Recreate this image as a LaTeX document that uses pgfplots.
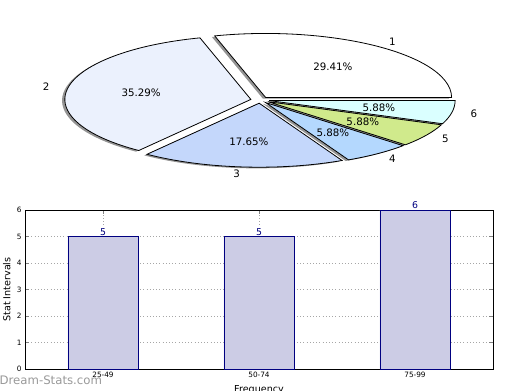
\documentclass[border=0pt]{standalone}
\usepackage{pgfplots}
\pgfplotsset{compat=1.18}
\usepackage{fontspec}
\setmainfont{DejaVu Sans}
\definecolor{sA}{HTML}{FFFFFF}
\definecolor{sB}{HTML}{EBF1FD}
\definecolor{sC}{HTML}{C4D7FB}
\definecolor{sD}{HTML}{B4D8FE}
\definecolor{sE}{HTML}{D0EA8C}
\definecolor{sF}{HTML}{DAFFFF}
\definecolor{barfill}{HTML}{CCCCE5}
\definecolor{baredge}{HTML}{000080}
% #1 cumulative count before slice, #2 count, #3 total
\newcommand\pieshadow[3]{%
 \fill[black!42] (axis cs:{0.05*cos((#1+#2/2)*360/#3)-0.015},{0.05*sin((#1+#2/2)*360/#3)-0.018})
   -- (axis cs:{0.05*cos((#1+#2/2)*360/#3)-0.015+cos(#1*360/#3)},{0.05*sin((#1+#2/2)*360/#3)-0.018+sin(#1*360/#3)})
   arc[start angle={#1*360/#3}, end angle={(#1+#2)*360/#3}, x radius=1, y radius=1] -- cycle;}
\newcommand\pieslice[4]{%
 \filldraw[fill=#4, draw=black, line width=0.6pt, line join=miter] (axis cs:{0.05*cos((#1+#2/2)*360/#3)},{0.05*sin((#1+#2/2)*360/#3)})
   -- (axis cs:{0.05*cos((#1+#2/2)*360/#3)+cos(#1*360/#3)},{0.05*sin((#1+#2/2)*360/#3)+sin(#1*360/#3)})
   arc[start angle={#1*360/#3}, end angle={(#1+#2)*360/#3}, x radius=1, y radius=1] -- cycle;}
% #1 cum, #2 count, #3 total, #4 anchor, #5 label, #6 pct
\newcommand\pielabels[6]{%
 \node[anchor=#4, inner sep=0pt] at (axis cs:{1.15*cos((#1+#2/2)*360/#3)},{1.15*sin((#1+#2/2)*360/#3)}) {#5};
 \node[inner sep=0pt] at (axis cs:{0.65*cos((#1+#2/2)*360/#3)},{0.65*sin((#1+#2/2)*360/#3)}) {#6};}
\begin{document}
\begin{tikzpicture}
\useasboundingbox (0,0) rectangle (390pt,292.5pt);
% ---------------- pie ----------------
\begin{axis}[at={(0pt,150pt)}, anchor=south west, scale only axis,
  width=390pt, height=142.5pt, hide axis, clip=false,
  xmin=-1.398, xmax=1.398, ymin=-1.406, ymax=1.5625,
  font=\fontsize{7.7}{9}\selectfont]
% counts: 5, 6, 3, 1, 1, 1 (total 17)
\pieshadow{0}{5}{17}
\pieshadow{5}{6}{17}
\pieshadow{11}{3}{17}
\pieshadow{14}{1}{17}
\pieshadow{15}{1}{17}
\pieshadow{16}{1}{17}
\pieslice{0}{5}{17}{sA}
\pieslice{5}{6}{17}{sB}
\pieslice{11}{3}{17}{sC}
\pieslice{14}{1}{17}{sD}
\pieslice{15}{1}{17}{sE}
\pieslice{16}{1}{17}{sF}
\pielabels{0}{5}{17}{west}{1}{29.41\%}
\pielabels{5}{6}{17}{east}{2}{35.29\%}
\pielabels{11}{3}{17}{east}{3}{17.65\%}
\pielabels{14}{1}{17}{west}{4}{5.88\%}
\pielabels{15}{1}{17}{west}{5}{5.88\%}
\pielabels{16}{1}{17}{west}{6}{5.88\%}
\end{axis}
% ---------------- bars ----------------
\begin{axis}[at={(18.75pt,15.75pt)}, anchor=south west, scale only axis,
  width=351pt, height=119.25pt,
  xmin=-0.5, xmax=2.5, ymin=0, ymax=6,
  xtick={0,1,2}, xticklabels={25-49,50-74,75-99},
  ytick={0,1,2,3,4,5,6},
  tick align=inside, tick pos=both,
  major tick length=3pt,
  axis line style={line width=0.75pt},
  grid=major, grid style={dotted, gray!70, line width=0.6pt},
  /pgf/number format/assume math mode=true,
  tick label style={font=\fontsize{5.5}{6}\selectfont},
  xticklabel style={yshift=1pt},
  yticklabel style={xshift=1pt},
  ylabel={Stat Intervals}, xlabel={Frequency},
  label style={font=\fontsize{7.2}{8}\selectfont},
  ylabel style={yshift=-2pt},
  xlabel style={yshift=1.5pt},
  clip=false]
\addplot[ybar, bar width=0.45, fill=barfill, draw=baredge, line width=0.6pt,
  nodes near coords, every node near coord/.style={font=\fontsize{7}{8}\selectfont, text=baredge, anchor=south, inner sep=0.5pt}]
  coordinates {(0,5) (1,5) (2,6)};
\end{axis}
\node[anchor=west, inner sep=0pt, text=black!40, font=\fontsize{8.8}{9}\selectfont] at (-0.5pt,7.5pt) {Dream-Stats.com};
\end{tikzpicture}
\end{document}
